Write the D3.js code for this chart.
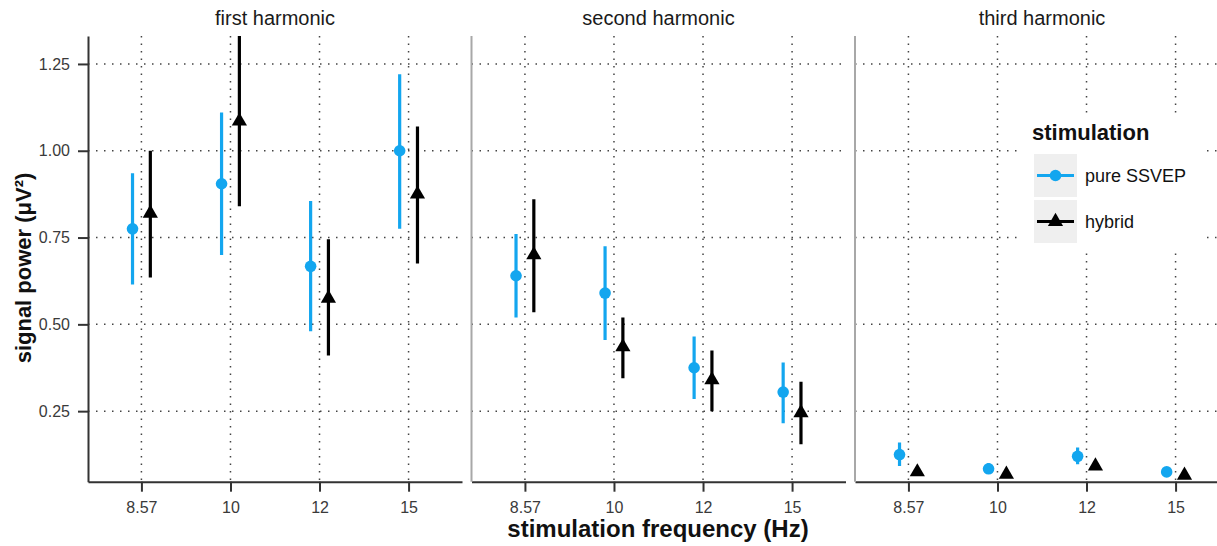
<!DOCTYPE html>
<html>
<head>
<meta charset="utf-8">
<script src="https://cdn.jsdelivr.net/npm/d3@7"></script>
<style>
  body { margin: 0; background: #fff; }
  svg { display: block; font-family: "Liberation Sans", Arial, Helvetica, sans-serif; }
</style>
</head>
<body>
<div id="vis"></div>
<script>
// values
var frequencies = ["8.57", "10", "12", "15"];
var harmonics = ["first harmonic", "second harmonic", "third harmonic"];
var yTicks = [0.25, 0.5, 0.75, 1.0, 1.25];

var pureMean  = [[0.775, 0.905, 0.667, 1.0], [0.64, 0.59, 0.375, 0.305], [0.125, 0.084, 0.12, 0.075]];
var pureLow   = [[0.615, 0.70, 0.48, 0.775], [0.52, 0.455, 0.285, 0.215], [0.092, 0.07, 0.097, 0.07]];
var pureHigh  = [[0.935, 1.11, 0.855, 1.22], [0.76, 0.725, 0.465, 0.39], [0.16, 0.10, 0.145, 0.08]];
var hybridMean = [[0.82, 1.085, 0.575, 0.875], [0.70, 0.435, 0.34, 0.245], [0.075, 0.068, 0.092, 0.065]];
var hybridLow  = [[0.635, 0.84, 0.41, 0.675], [0.535, 0.345, 0.25, 0.155], [0.066, 0.06, 0.084, 0.058]];
var hybridHigh = [[1.0, 1.36, 0.745, 1.07], [0.86, 0.52, 0.425, 0.335], [0.085, 0.075, 0.10, 0.072]];

var series = [
  {name: "pure SSVEP", color: "#13a6ef", shape: "circle", mean: pureMean, lo: pureLow, hi: pureHigh, dodge: -1},
  {name: "hybrid", color: "#000", shape: "triangle", mean: hybridMean, lo: hybridLow, hi: hybridHigh, dodge: 1}
];

var W = 1217, H = 546;
var plotTop = 36, plotBottom = 481.7;
var panelW = 374, panelGap = 9.5, left0 = 88;

var svg = d3.select("#vis").append("svg")
  .attr("width", W)
  .attr("height", H);

var y = d3.scaleLinear()
  .domain([0.0468, 1.3305])
  .range([plotBottom, plotTop]);

var x = d3.scalePoint()
  .domain(frequencies)
  .range([0, panelW])
  .padding(0.6);

var dodge = x.step() * 0.1;

svg.append("defs").append("clipPath")
  .attr("id", "panelClip")
  .append("rect")
    .attr("x", 0).attr("y", plotTop)
    .attr("width", panelW).attr("height", plotBottom - plotTop);

harmonics.forEach(function (h, hi) {
  var g = svg.append("g")
    .attr("transform", "translate(" + (left0 + hi * (panelW + panelGap)) + ",0)");

  // dotted grid
  g.selectAll(".hgrid").data(yTicks).enter().append("line")
    .attr("x1", 0).attr("x2", panelW)
    .attr("y1", function (d) { return y(d); })
    .attr("y2", function (d) { return y(d); })
    .attr("stroke", "#444").attr("stroke-width", 1.5)
    .attr("stroke-dasharray", "1.5 6.5");

  g.selectAll(".vgrid").data(frequencies).enter().append("line")
    .attr("x1", function (d) { return x(d); })
    .attr("x2", function (d) { return x(d); })
    .attr("y1", plotTop).attr("y2", plotBottom)
    .attr("stroke", "#444").attr("stroke-width", 1.5)
    .attr("stroke-dasharray", "1.5 6");

  // strip title
  g.append("text")
    .attr("x", panelW / 2).attr("y", 25)
    .attr("text-anchor", "middle")
    .attr("font-size", 20)
    .attr("fill", "#1a1a1a")
    .text(h);

  // x axis
  var xg = g.append("g")
    .attr("transform", "translate(0," + plotBottom + ")")
    .call(d3.axisBottom(x).tickSize(10).tickSizeOuter(0).tickPadding(10));
  xg.select(".domain").attr("stroke", "#333").attr("stroke-width", 2);
  xg.selectAll(".tick line").attr("stroke", "#333").attr("stroke-width", 2);
  xg.selectAll(".tick text").attr("font-size", 16).attr("fill", "#3a3a3a")
    .attr("font-family", "Liberation Sans, Arial, sans-serif");

  // y axis (ticks only on the first panel)
  if (hi === 0) {
    var yg = g.append("g")
      .call(d3.axisLeft(y).tickValues(yTicks).tickFormat(d3.format(".2f"))
        .tickSize(10).tickSizeOuter(0).tickPadding(8));
    yg.select(".domain").attr("stroke", "#333").attr("stroke-width", 2);
    yg.selectAll(".tick line").attr("stroke", "#333").attr("stroke-width", 2);
    yg.selectAll(".tick text").attr("font-size", 16).attr("fill", "#3a3a3a")
      .attr("font-family", "Liberation Sans, Arial, sans-serif");
  } else {
    g.append("line")
      .attr("x1", 0).attr("x2", 0)
      .attr("y1", plotTop).attr("y2", plotBottom)
      .attr("stroke", "#a8a8a8").attr("stroke-width", 2);
  }

  var marks = g.append("g").attr("clip-path", "url(#panelClip)");

  series.forEach(function (s) {
    var rows = frequencies.map(function (f, i) {
      return {f: f, m: s.mean[hi][i], lo: s.lo[hi][i], hi: s.hi[hi][i]};
    });
    marks.selectAll(null).data(rows).enter().append("line")
      .attr("x1", function (d) { return x(d.f) + s.dodge * dodge; })
      .attr("x2", function (d) { return x(d.f) + s.dodge * dodge; })
      .attr("y1", function (d) { return y(d.lo); })
      .attr("y2", function (d) { return y(d.hi); })
      .attr("stroke", s.color).attr("stroke-width", 3.2);

    if (s.shape === "circle") {
      marks.selectAll(null).data(rows).enter().append("circle")
        .attr("cx", function (d) { return x(d.f) + s.dodge * dodge; })
        .attr("cy", function (d) { return y(d.m); })
        .attr("r", 5.8)
        .attr("fill", s.color);
    } else {
      marks.selectAll(null).data(rows).enter().append("path")
        .attr("d", d3.symbol().type(d3.symbolTriangle).size(100))
        .attr("transform", function (d) {
          return "translate(" + (x(d.f) + s.dodge * dodge) + "," + y(d.m) + ")";
        })
        .attr("fill", s.color);
    }
  });
});

// axis titles
svg.append("text")
  .attr("x", 658).attr("y", 537)
  .attr("text-anchor", "middle")
  .attr("font-size", 24).attr("font-weight", "bold")
  .attr("fill", "#111")
  .text("stimulation frequency (Hz)");

svg.append("text")
  .attr("transform", "translate(31," + 268 + ") rotate(-90)")
  .attr("text-anchor", "middle")
  .attr("font-size", 22).attr("font-weight", "bold")
  .attr("fill", "#111")
  .text("signal power (μV²)");

// legend
var legend = svg.append("g");
legend.append("rect")
  .attr("x", 1017).attr("y", 113)
  .attr("width", 188).attr("height", 140)
  .attr("fill", "#fff");

legend.append("text")
  .attr("x", 1032).attr("y", 140)
  .attr("font-size", 22).attr("font-weight", "bold")
  .attr("fill", "#111")
  .text("stimulation");

var key = legend.selectAll(".key").data(series).enter().append("g")
  .attr("transform", function (d, i) { return "translate(1034," + (154 + i * 46) + ")"; });

key.append("rect")
  .attr("width", 43).attr("height", 43)
  .attr("fill", "#efefef");

key.append("line")
  .attr("x1", 3).attr("x2", 40)
  .attr("y1", 21.5).attr("y2", 21.5)
  .attr("stroke", function (d) { return d.color; })
  .attr("stroke-width", 3);

key.each(function (d) {
  var k = d3.select(this);
  if (d.shape === "circle") {
    k.append("circle").attr("cx", 21.5).attr("cy", 21.5).attr("r", 5.8).attr("fill", d.color);
  } else {
    k.append("path")
      .attr("d", d3.symbol().type(d3.symbolTriangle).size(100))
      .attr("transform", "translate(21.5,21.5)")
      .attr("fill", d.color);
  }
});

key.append("text")
  .attr("x", 51).attr("y", 21.5)
  .attr("dy", "0.35em")
  .attr("font-size", 18)
  .attr("fill", "#111")
  .text(function (d) { return d.name; });
</script>
</body>
</html>
